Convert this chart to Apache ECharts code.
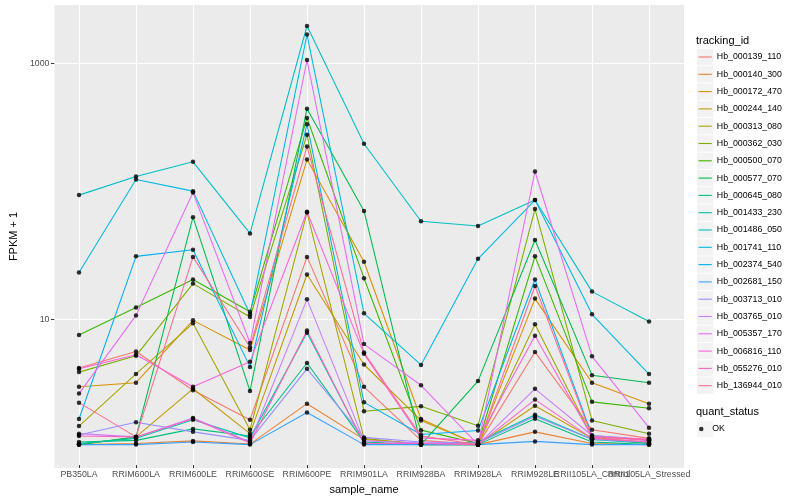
<!DOCTYPE html>
<html>
<head>
<meta charset="utf-8">
<script src="https://cdn.jsdelivr.net/npm/echarts@6/dist/echarts.min.js"></script>
<style>html,body{margin:0;padding:0;background:#fff}#c{width:800px;height:500px}</style>
</head>
<body>
<div id="c"></div>
<script>
const categories = ['PB350LA','RRIM600LA','RRIM600LE','RRIM600SE','RRIM600PE','RRIM901LA','RRIM928BA','RRIM928LA','RRIM928LE','RRII105LA_Control','RRII105LA_Stressed'];
const trackingIds = ['Hb_000139_110','Hb_000140_300','Hb_000172_470','Hb_000244_140','Hb_000313_080','Hb_000362_030','Hb_000500_070','Hb_000577_070','Hb_000645_080','Hb_001433_230','Hb_001486_050','Hb_001741_110','Hb_002374_540','Hb_002681_150','Hb_003713_010','Hb_003765_010','Hb_005357_170','Hb_006816_110','Hb_055276_010','Hb_136944_010'];
const colors = ['#F8766D','#EA8331','#D89000','#C09B00','#A3A500','#7CAE00','#39B600','#00BB4E','#00BF7D','#00C1A3','#00BFC4','#00BAE0','#00B0F6','#35A2FF','#9590FF','#C77CFF','#E76BF3','#FA62DB','#FF62BC','#FF6C91'];

// FPKM + 1 per sample, in category order
const Hb_000139_110 = [4.0, 5.4, 2.68, 1.57, 30, 2.85, 1.08, 1.0, 5.35, 1.31, 1.12];
const Hb_000140_300 = [1.0, 1.02, 1.07, 1.01, 2.10, 1.1, 1.02, 1.0, 1.26, 1.02, 1.0];
const Hb_000172_470 = [2.85, 3.07, 9.5, 5.55, 175, 27.5, 1.59, 1.0, 14.1, 3.07, 2.10];
const Hb_000244_140 = [1.0, 1.15, 2.75, 1.22, 21.8, 4.27, 1.55, 1.0, 2.02, 1.12, 1.05];
const Hb_000313_080 = [1.40, 3.6, 9.0, 1.31, 67, 1.12, 1.0, 1.0, 8.87, 1.15, 1.02];
const Hb_000362_030 = [3.72, 5.0, 18.5, 10.1, 275, 1.83, 2.0, 1.41, 71.4, 1.55, 1.22];
const Hb_000500_070 = [7.3, 12.0, 19.9, 11.1, 372, 20.4, 1.3, 1.02, 30.3, 2.17, 1.93];
const Hb_000577_070 = [1.0, 1.15, 61.6, 2.64, 440, 69, 1.0, 3.16, 40.7, 3.52, 3.07];
const Hb_000645_080 = [1.05, 1.08, 1.33, 1.17, 4.39, 1.05, 1.0, 1.0, 1.6, 1.05, 1.0];
const Hb_001433_230 = [1.02, 1.12, 1.57, 1.13, 7.6, 1.03, 1.0, 1.05, 1.72, 1.1, 1.02];
const Hb_001486_050 = [91.9, 129, 168, 45.9, 1969, 233, 57.3, 52.6, 84, 16.0, 9.3];
const Hb_001741_110 = [22.6, 122, 98.8, 10.6, 1686, 10.8, 4.24, 29.0, 84, 10.6, 3.59];
const Hb_002374_540 = [1.59, 30.3, 34.2, 4.09, 332, 2.15, 1.2, 1.29, 19.9, 1.18, 1.08];
const Hb_002681_150 = [1.0, 1.0, 1.05, 1.0, 1.79, 1.0, 1.0, 1.0, 1.06, 1.0, 1.0];
const Hb_003713_010 = [1.19, 1.5, 1.26, 1.08, 3.95, 1.14, 1.05, 1.03, 1.67, 1.1, 1.05];
const Hb_003765_010 = [1.22, 1.15, 1.62, 1.05, 13.9, 1.07, 1.03, 1.0, 2.75, 1.18, 1.1];
const Hb_005357_170 = [2.52, 10.4, 96.2, 6.3, 1061, 6.18, 2.93, 1.0, 141, 4.95, 1.36];
const Hb_006816_110 = [3.95, 5.1, 2.85, 4.48, 68, 5.18, 1.13, 1.08, 7.19, 1.15, 1.08];
const Hb_055276_010 = [1.17, 1.15, 1.6, 1.03, 7.9, 1.02, 1.02, 1.0, 2.26, 1.12, 1.05];
const Hb_136944_010 = [2.14, 1.15, 30, 5.83, 222, 5.3, 1.17, 1.0, 17.7, 1.15, 1.1];

const yTickLabels = [10, 1000];
const quantStatus = ['OK'];

const seriesValues = [Hb_000139_110, Hb_000140_300, Hb_000172_470, Hb_000244_140, Hb_000313_080, Hb_000362_030, Hb_000500_070, Hb_000577_070, Hb_000645_080, Hb_001433_230, Hb_001486_050, Hb_001741_110, Hb_002374_540, Hb_002681_150, Hb_003713_010, Hb_003765_010, Hb_005357_170, Hb_006816_110, Hb_055276_010, Hb_136944_010];

const FONT = '"Liberation Sans", Arial, Helvetica, sans-serif';
const Y_MIN = 0.69, Y_MAX = 2880;

const lineSeries = trackingIds.map((id, k) => ({
  name: id,
  type: 'line',
  xAxisIndex: 1,
  yAxisIndex: 1,
  data: seriesValues[k],
  showSymbol: false,
  symbol: 'none',
  lineStyle: { color: colors[k], width: 1.07 },
  itemStyle: { color: colors[k] },
  emphasis: { disabled: true },
  silent: true,
  z: 2
}));

const pointData = [];
seriesValues.forEach(vals => vals.forEach((v, i) => pointData.push([categories[i], v])));

const option = {
  animation: false,
  backgroundColor: '#FFFFFF',
  textStyle: { fontFamily: FONT },
  title: [
    { text: 'tracking_id', left: 696, top: 34.5, padding: 0,
      textStyle: { fontSize: 11, fontWeight: 'normal', color: '#000', fontFamily: FONT, lineHeight: 13 } },
    { text: 'quant_status', left: 696, top: 405.5, padding: 0,
      textStyle: { fontSize: 11, fontWeight: 'normal', color: '#000', fontFamily: FONT, lineHeight: 13 } }
  ],
  grid: [
    { left: 45, right: 116, top: 5, bottom: 32, show: true, backgroundColor: '#EBEBEB', borderWidth: 0, containLabel: false },
    { left: 79, right: 151, top: 5, bottom: 32, show: false, containLabel: false }
  ],
  xAxis: [
    { type: 'value', gridIndex: 0, min: 0, max: 1, show: false },
    {
      type: 'category', gridIndex: 1, data: categories, boundaryGap: false,
      axisLine: { show: false },
      axisTick: { show: true, length: 3, lineStyle: { color: '#333333', width: 1 } },
      axisLabel: { interval: 0, hideOverlap: false, margin: 5, color: '#4D4D4D', fontSize: 8.8, fontFamily: FONT },
      splitLine: { show: true, lineStyle: { color: '#FFFFFF', width: 1.07 } },
      name: 'sample_name', nameLocation: 'middle', nameGap: 14,
      nameTextStyle: { fontSize: 11, color: '#000', fontFamily: FONT }
    }
  ],
  yAxis: [
    {
      type: 'log', logBase: 10, gridIndex: 0, min: Y_MIN, max: Y_MAX,
      axisLine: { show: false },
      axisTick: { show: true, length: 3.5, customValues: yTickLabels, lineStyle: { color: '#333333', width: 1 } },
      axisLabel: {
        customValues: yTickLabels, margin: 5, color: '#4D4D4D', fontSize: 8.8, fontFamily: FONT,
        formatter: v => (yTickLabels.some(t => Math.abs(t - v) < 1e-6 * t) ? String(Math.round(v)) : '')
      },
      splitLine: { show: true, showMinLine: false, showMaxLine: false, lineStyle: { color: '#FFFFFF', width: 0.55 } },
      name: 'FPKM + 1', nameLocation: 'middle', nameGap: 26, nameRotate: 90,
      nameTextStyle: { fontSize: 11, color: '#000', fontFamily: FONT }
    },
    { type: 'log', logBase: 10, gridIndex: 1, min: Y_MIN, max: Y_MAX, show: false, splitLine: { show: false } }
  ],
  legend: [
    { // grey key boxes
      orient: 'vertical', left: 697, top: 48.85, padding: 0,
      itemWidth: 16.3, itemHeight: 16.3, itemGap: 1, icon: 'rect',
      data: trackingIds, formatter: () => '', selectedMode: false,
      itemStyle: { color: '#F2F2F2', borderWidth: 0 },
      textStyle: { fontSize: 8.8 }
    },
    { // line keys + labels
      orient: 'vertical', left: 698.5, top: 48.85, padding: 0,
      itemWidth: 13.3, itemHeight: 1.1, itemGap: 1, icon: 'rect',
      data: trackingIds, selectedMode: false,
      itemStyle: { borderWidth: 0 },
      textStyle: { fontSize: 8.8, color: '#000', fontFamily: FONT, lineHeight: 16.3 }
    },
    { // quant_status key box
      orient: 'vertical', left: 697, top: 420.85, padding: 0,
      itemWidth: 16.3, itemHeight: 16.3, itemGap: 1, icon: 'rect',
      data: quantStatus, formatter: () => '', selectedMode: false,
      itemStyle: { color: '#F2F2F2', borderWidth: 0 }
    },
    { // quant_status point + label
      orient: 'vertical', left: 699, top: 420.85, padding: 0,
      itemWidth: 12, itemHeight: 4.5, itemGap: 1, icon: 'circle',
      data: quantStatus, selectedMode: false,
      itemStyle: { color: '#000', borderWidth: 0 },
      textStyle: { fontSize: 8.8, color: '#000', fontFamily: FONT, lineHeight: 16.3 }
    }
  ],
  series: [
    {
      name: 'gridMajor', type: 'line', xAxisIndex: 0, yAxisIndex: 0, data: [], silent: true, z: 1,
      markLine: {
        z: 1, silent: true, symbol: ['none', 'none'], animation: false,
        label: { show: false }, emphasis: { disabled: true },
        lineStyle: { color: '#FFFFFF', width: 1.07, type: 'solid' },
        data: yTickLabels.map(v => ({ yAxis: v }))
      }
    },
    ...lineSeries,
    {
      name: quantStatus[0], type: 'scatter', xAxisIndex: 1, yAxisIndex: 1,
      data: pointData, symbol: 'circle', symbolSize: 4.5,
      itemStyle: { color: '#000000' }, emphasis: { disabled: true }, silent: true, z: 3
    }
  ]
};

const chart = echarts.init(document.getElementById('c'), null, { renderer: 'canvas' });
chart.setOption(option);
</script>
</body>
</html>
